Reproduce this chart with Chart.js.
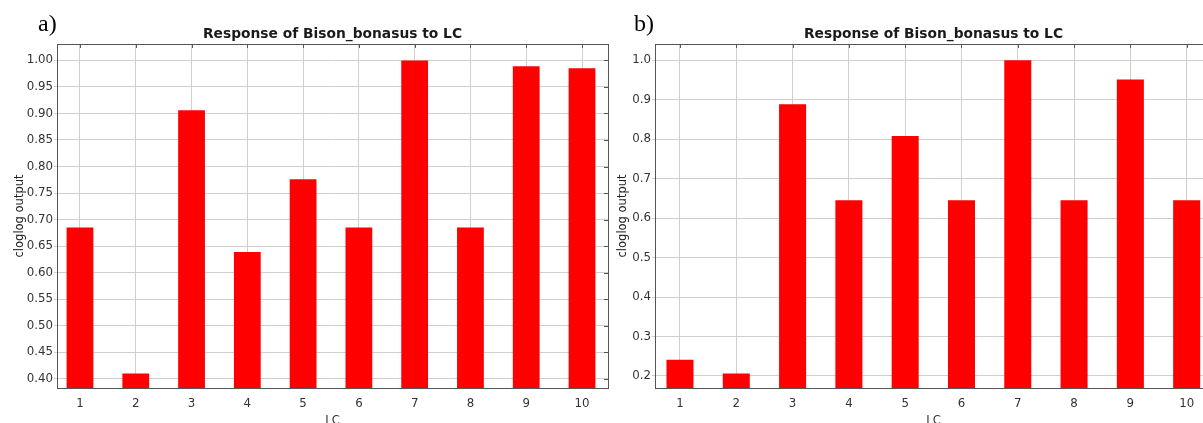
<!DOCTYPE html>
<html lang="en">
<head>
  <meta charset="UTF-8">
  <title>Response of Bison_bonasus to LC</title>
  <script src="https://cdn.jsdelivr.net/npm/chart.js"></script>
  <style>
    html, body { margin: 0; padding: 0; background: #fff; }
    body { width: 1203px; height: 423px; overflow: hidden; position: relative; }
    .panel { position: absolute; top: 0; height: 432px; }
    .tag { position: absolute; font-family: "Liberation Serif", "Times New Roman", serif; font-size: 24px; line-height: 1; color: #000; }
  </style>
</head>
<body>
  <div class="panel" style="left:0;width:610px;"><canvas id="chartA"></canvas></div>
  <div class="panel" style="left:590px;width:625px;"><canvas id="chartB"></canvas></div>
  <div class="tag" style="left:38px;top:11px;">a)</div>
  <div class="tag" style="left:634px;top:11px;">b)</div>

  <script>
    // LC classes and cloglog output
    const categories = [1, 2, 3, 4, 5, 6, 7, 8, 9, 10];
    const responseA = [0.685, 0.410, 0.906, 0.639, 0.776, 0.685, 1.000, 0.685, 0.989, 0.985];
    const responseB = [0.241, 0.206, 0.888, 0.645, 0.808, 0.645, 1.000, 0.645, 0.951, 0.645];
    const yTicksA = [0.40, 0.45, 0.50, 0.55, 0.60, 0.65, 0.70, 0.75, 0.80, 0.85, 0.90, 0.95, 1.00];
    const yTicksB = [0.2, 0.3, 0.4, 0.5, 0.6, 0.7, 0.8, 0.9, 1.0];

    const sans = 'DejaVu Sans, sans-serif';
    const gridColor = '#cfcfcf';
    const frameColor = '#555';

    // box round the plot with short inner ticks on top and right
    const framePlugin = {
      id: 'frame',
      afterDatasetsDraw(chart) {
        const { ctx, chartArea: a, scales: { x, y } } = chart;
        ctx.save();
        ctx.strokeStyle = frameColor;
        ctx.lineWidth = 1;
        ctx.beginPath();
        x.ticks.forEach(t => {
          const px = Math.round(x.getPixelForValue(t.value)) + 0.5;
          ctx.moveTo(px, a.top);
          ctx.lineTo(px, a.top + 4);
        });
        y.ticks.forEach(t => {
          const py = Math.round(y.getPixelForValue(t.value)) + 0.5;
          ctx.moveTo(a.right, py);
          ctx.lineTo(a.right - 4, py);
        });
        ctx.stroke();
        ctx.strokeRect(Math.round(a.left) + 0.5, Math.round(a.top) + 0.5,
                       Math.round(a.width), Math.round(a.height));
        ctx.restore();
      }
    };

    function makeChart(id, values, yTicks, decimals, yMin, yMax, xMin, xMax, axisWidth, yTitlePad, padRight) {
      const ctx = document.getElementById(id).getContext('2d');
      return new Chart(ctx, {
        type: 'bar',
        data: {
          datasets: [{
            data: categories.map((c, i) => ({ x: c, y: values[i] })),
            backgroundColor: '#ff0000',
            borderWidth: 0,
            barPercentage: 0.48,
            categoryPercentage: 1
          }]
        },
        options: {
          responsive: true,
          maintainAspectRatio: false,
          animation: false,
          layout: { padding: { left: 0, right: padRight, top: 0, bottom: 0 } },
          plugins: {
            legend: { display: false },
            tooltip: { enabled: false },
            title: {
              display: true,
              text: 'Response of Bison_bonasus to LC',
              fullSize: false,
              color: '#1a1a1a',
              font: { family: sans, size: 13.8, weight: 'bold' },
              padding: { top: 26, bottom: 1.4 }
            }
          },
          scales: {
            x: {
              type: 'linear',
              offset: false,
              min: xMin,
              max: xMax,
              afterBuildTicks: s => { s.ticks = categories.map(v => ({ value: v })); },
              afterFit: s => { s.height = 44; },
              grid: { color: gridColor, drawTicks: false, offset: false },
              border: { display: false },
              ticks: { color: '#333', padding: 9, font: { family: sans, size: 11.8 } },
              title: {
                display: true, text: 'LC', color: '#333',
                font: { family: sans, size: 11.5 },
                padding: { top: 0, bottom: 4 }
              }
            },
            y: {
              min: yMin,
              max: yMax,
              afterBuildTicks: s => { s.ticks = yTicks.map(v => ({ value: v })); },
              afterFit: s => { s.width = axisWidth; },
              grid: { color: gridColor, tickLength: 3 },
              border: { display: false },
              ticks: {
                color: '#333', padding: 1,
                font: { family: sans, size: 11.8 },
                callback: v => Number(v).toFixed(decimals)
              },
              title: {
                display: true, text: 'cloglog output', color: '#222',
                font: { family: sans, size: 11.5 },
                padding: { top: yTitlePad, bottom: 0 }
              }
            }
          }
        },
        plugins: [framePlugin]
      });
    }

    makeChart('chartA', responseA, yTicksA, 2, 0.3825, 1.031, 0.588, 10.466, 57, 13, 2);
    makeChart('chartB', responseB, yTicksB, 1, 0.1695, 1.041, 0.556, 10.45, 65, 26, 3);
  </script>
</body>
</html>
